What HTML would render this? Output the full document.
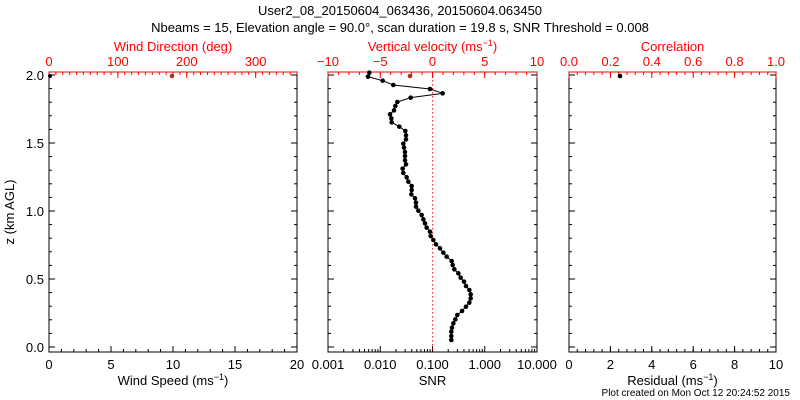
<!DOCTYPE html><html><head><style>body{margin:0;background:#fff}svg{display:block}text{font-family:"Liberation Sans",sans-serif}</style></head><body>
<svg id="s" width="800" height="400" xmlns="http://www.w3.org/2000/svg"></svg>
<script>
(function(){
const s=document.getElementById('s');let h='';
const T=(x,y,t,c,sz,a)=>h+=`<text x="${x}" y="${y}" fill="${c||'#000'}" font-size="${sz||13}" text-anchor="${a||'middle'}">${t}</text>`;
const L=(x1,y1,x2,y2,c,w,d)=>h+=`<line x1="${x1}" y1="${y1}" x2="${x2}" y2="${y2}" stroke="${c||'#000'}" stroke-width="${w||1}" ${d?'stroke-dasharray="'+d+'"':''}/>`;
const TOP=72,BOT=352;
T(400,15,'User2_08_20150604_063436, 20150604.063450');
T(400,32,'Nbeams = 15, Elevation angle = 90.0°, scan duration = 19.8 s, SNR Threshold = 0.008');
function panel(x0,x1,bl,tl,bt,tt,botMinor,topMinor){
 h+=`<rect x="${x0}" y="${TOP}" width="${x1-x0}" height="${BOT-TOP}" fill="none" stroke="#000"/>`;
 L(x0,TOP,x1,TOP,'red');
 bl.forEach(([v,f])=>{const x=x0+f*(x1-x0);T(x,369,v);L(x,BOT,x,BOT-6);});
 tl.forEach(([v,f])=>{const x=x0+f*(x1-x0);T(x,66,v,'red');L(x,TOP,x,TOP+6,'red');});
 botMinor.forEach(f=>{const x=x0+f*(x1-x0);L(x,BOT,x,BOT-3);});
 topMinor.forEach(f=>{const x=x0+f*(x1-x0);L(x,TOP,x,TOP+3,'red');});
 T((x0+x1)/2,385,bt);T((x0+x1)/2,51,tt,'red');
}
const rng=(n)=>Array.from({length:n+1},(_,i)=>i/n);
panel(49,297,[[0,0],[5,.25],[10,.5],[15,.75],[20,1]],[[0,0],[100,100/360],[200,200/360],[300,300/360]],'Wind Speed (ms<tspan font-size="9" dy="-5">−1</tspan><tspan dy="5">)</tspan>','Wind Direction (deg)',rng(20),Array.from({length:37},(_,i)=>i*10/360));
let lm=[];for(let d=0;d<4;d++)for(let k=2;k<10;k++)lm.push((d+Math.log10(k))/4);
panel(328,537,[['0.001',0],['0.010',.25],['0.100',.5],['1.000',.75],['10.000',1]],[['−10',0],['−5',.25],['0',.5],['5',.75],['10',1]],'SNR','Vertical velocity (ms<tspan font-size="9" dy="-5">−1</tspan><tspan dy="5">)</tspan>',lm,rng(20));
panel(569,776,[[0,0],[2,.2],[4,.4],[6,.6],[8,.8],[10,1]],[['0.0',0],['0.2',.2],['0.4',.4],['0.6',.6],['0.8',.8],['1.0',1]],'Residual (ms<tspan font-size="9" dy="-5">−1</tspan><tspan dy="5">)</tspan>','Correlation',rng(25),rng(25));
const X1=[297,537,776];
[[0,347],[0.5,279],[1,211],[1.5,143],[2,75]].forEach(([v,y])=>{T(44,y+5,v.toFixed(1),'#000',13,'end');[49,328,569].forEach((x,i)=>{L(x,y,x+6,y);L(X1[i],y,X1[i]-6,y);});});
for(let k=0;k<=20;k++){const y=347-13.6*k;[49,328,569].forEach((x,i)=>{L(x,y,x+3,y);L(X1[i],y,X1[i]-3,y);});}
h+=`<text transform="translate(14,212) rotate(-90)" font-size="13" text-anchor="middle">z (km AGL)</text>`;
T(790,396,'Plot created on Mon Oct 12 20:24:52 2015','#000',10,'end');
L(432.7,TOP,432.7,BOT,'red',1,'1.5,2.5');
const z=[[178,68],[174,80],[218,92],[250,105],[360,117],[398,130],[302,143],[262,156],[256,168],[252,181],[240,193],[244,205],[245,217],[268,230],[286,243],[288,256],[288,268],[280,281],[282,293],[285,306],[285,318],[285,331],[288,343],[278,356],[280,369],[290,382],[295,395],[305,408],[305,420],[304,433],[315,445],[318,458],[318,470],[325,482],[335,495],[340,508],[345,520],[350,533],[360,545],[362,558],[370,570],[378,583],[390,595],[400,608],[410,620],[425,633],[428,645],[433,658],[445,670],[452,683],[462,695],[468,708],[478,720],[482,733],[482,745],[478,758],[468,770],[456,783],[442,795],[436,808],[430,820],[426,833],[424,845],[424,858],[424,870]];
const p=z.map(([a,b])=>[310+a/3,50+b/3]);
h+=`<polyline points="${p.map(q=>q.join(',')).join(' ')}" fill="none" stroke="#000"/>`;
p.forEach(q=>h+=`<circle cx="${q[0]}" cy="${q[1]}" r="2.3" fill="#000"/>`);
h+=`<circle cx="410" cy="76" r="2.3" fill="#b03020"/><circle cx="172" cy="76" r="2.3" fill="#b03020"/><circle cx="50" cy="76" r="2" fill="#000"/><circle cx="620" cy="76" r="2.3" fill="#000"/>`;
s.innerHTML=h;
})();
</script></body></html>
